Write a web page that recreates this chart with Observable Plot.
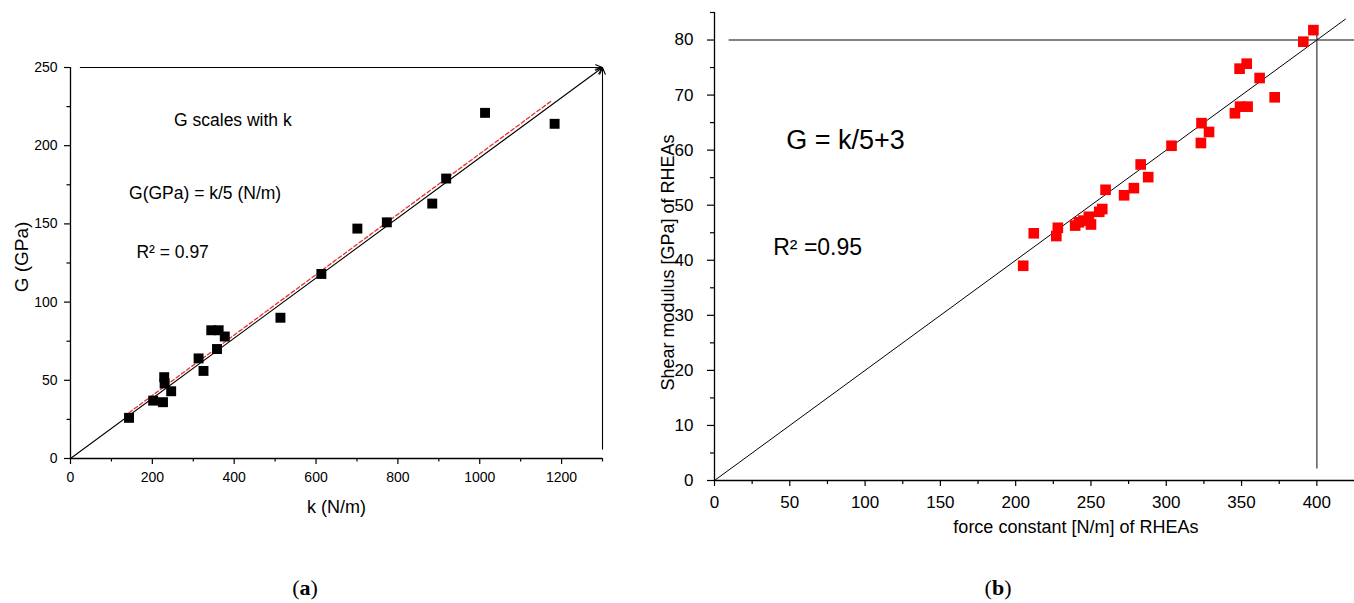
<!DOCTYPE html>
<html>
<head>
<meta charset="utf-8">
<script src="https://cdn.jsdelivr.net/npm/d3@7"></script>
<script src="https://cdn.jsdelivr.net/npm/@observablehq/plot@0.6"></script>
<style>
  html, body { margin: 0; padding: 0; background: #fff; }
  #wrap { position: relative; width: 1354px; height: 603px; overflow: hidden; background: #fff; }
  .panel { position: absolute; top: 0; }
  .cap { position: absolute; font-family: "Liberation Serif", "DejaVu Serif", serif; font-size: 22px; color: #000; transform: translateX(-50%); }
</style>
</head>
<body>
<div id="wrap">
  <div id="pa" class="panel" style="left:0px"></div>
  <div id="pb" class="panel" style="left:640px"></div>
  <div class="cap" style="left:305px; top:575px;">(<b>a</b>)</div>
  <div class="cap" style="left:998px; top:575px;">(<b>b</b>)</div>
</div>
<script>
// ---------- Panel (a) data ----------
const kA = [143, 202, 226, 229, 230, 246, 313, 325, 344, 362, 377, 358, 513, 613, 701, 773, 884, 918, 1013, 1183];
const gA = [26, 37, 36, 52, 48, 43, 64, 56, 82, 82, 78, 70, 90, 118, 147, 151, 163, 179, 221, 214];
const fitKA = [143, 1175];
const fitGA = [29.3, 228.6];
const arrowsA = [
  {x1: 0, y1: 0, x2: 1300, y2: 250},
  {x1: 24, y1: 250, x2: 1300, y2: 250},
  {x1: 1300, y1: 6, x2: 1300, y2: 250}
];
const notesA = [
  {k: 253, g: 216, t: "G scales with k"},
  {k: 143, g: 169.4, t: "G(GPa) = k/5 (N/m)"},
  {k: 161, g: 131.9, t: "R\u00b2 = 0.97"}
];
const xMajorA = [0, 200, 400, 600, 800, 1000, 1200];
const xMinorA = [100, 300, 500, 700, 900, 1100, 1300];
const yMajorA = [0, 50, 100, 150, 200, 250];
const yMinorA = [25, 75, 125, 175, 225];

// ---------- Panel (b) data ----------
const kB = [205, 212, 227, 228, 239.5, 242, 245, 248.6, 250, 255.5, 257.5, 259.7, 272, 278.5, 283, 288, 303.5, 323, 323.4, 328.4, 345.6, 349, 354, 348.7, 353.4, 362, 372, 391, 397.7];
const gB = [39.0, 44.9, 44.4, 45.9, 46.3, 46.9, 47.2, 47.9, 46.5, 48.8, 49.3, 52.8, 51.8, 53.1, 57.4, 55.1, 60.8, 61.3, 64.9, 63.3, 66.7, 67.9, 67.9, 74.8, 75.7, 73.1, 69.6, 79.7, 81.8];
const guideKB = [0, 419];
const guideGB = [0, 83.8];
const hLineB = {g: 80, k1: 9.7, k2: 425};
const vLineB = {k: 400, g1: 2.1, g2: 81.4};
const notesB = [
  {k: 47.6, g: 61.75, t: "G = k/5+3", size: 27},
  {k: 39, g: 42.3, t: "R\u00b2 =0.95", size: 23}
];
const xMajorB = [0, 50, 100, 150, 200, 250, 300, 350, 400];
const xMinorB = [25, 75, 125, 175, 225, 275, 325, 375];
const yMajorB = [0, 10, 20, 30, 40, 50, 60, 70, 80];
const yMinorB = [5, 15, 25, 35, 45, 55, 65, 75, 85];

const FONT = "'Liberation Sans', Arial, sans-serif";

// ---------- Panel (a) ----------
const ptsA = kA.map((k, i) => ({k, g: gA[i]}));
const fitA = fitKA.map((k, i) => ({k, g: fitGA[i]}));
const plotA = Plot.plot({
  width: 640, height: 603,
  marginLeft: 70, marginRight: 38, marginTop: 67, marginBottom: 145,
  style: {fontFamily: FONT, background: "transparent", overflow: "visible", color: "#000"},
  x: {domain: [0, 1300]},
  y: {domain: [0, 250]},
  marks: [
    Plot.ruleY([0], {stroke: "#000", strokeWidth: 1.3}),
    Plot.ruleX([0], {stroke: "#000", strokeWidth: 1.3}),
    Plot.axisX(xMajorA, {anchor: "bottom", tickSize: 6, tickPadding: 8, fontSize: 14, strokeWidth: 1.2, label: null, tickFormat: d => String(d)}),
    Plot.axisX(xMinorA, {anchor: "bottom", tickSize: 3.5, strokeWidth: 1.2, label: null, tickFormat: () => ""}),
    Plot.axisY(yMajorA, {anchor: "left", tickSize: 6, tickPadding: 7, fontSize: 14, strokeWidth: 1.2, label: null, tickFormat: d => String(d)}),
    Plot.axisY(yMinorA, {anchor: "left", tickSize: 3.5, strokeWidth: 1.2, label: null, tickFormat: () => ""}),
    Plot.text(["k (N/m)"], {frameAnchor: "bottom", textAnchor: "middle", lineAnchor: "middle", dy: 49, fontSize: 18, fill: "#000"}),
    Plot.text(["G (GPa)"], {frameAnchor: "left", textAnchor: "middle", lineAnchor: "middle", dx: -49, dy: -6, rotate: -90, fontSize: 19, fill: "#000"}),
    Plot.line(fitA, {x: "k", y: "g", stroke: "#e8302e", strokeWidth: 1.3, strokeDasharray: "4,2.5"}),
    Plot.arrow(arrowsA, {x1: "x1", y1: "y1", x2: "x2", y2: "y2", stroke: "#000", strokeWidth: 1.1, headLength: 10, headAngle: 45}),
    Plot.dot(ptsA, {x: "k", y: "g", symbol: "square", r: 5.6, fill: "#000", stroke: "none"}),
    Plot.text(notesA, {x: "k", y: "g", text: "t", textAnchor: "start", fontSize: 17.5, fill: "#000"})
  ]
});
document.getElementById("pa").appendChild(plotA);

// ---------- Panel (b) ----------
const ptsB = kB.map((k, i) => ({k, g: gB[i]}));
const guideB = guideKB.map((k, i) => ({k, g: guideGB[i]}));
const plotB = Plot.plot({
  width: 714, height: 603,
  marginLeft: 74, marginRight: 0, marginTop: 12, marginBottom: 123,
  style: {fontFamily: FONT, background: "transparent", overflow: "visible", color: "#000"},
  x: {domain: [0, 425]},
  y: {domain: [0, 85]},
  marks: [
    Plot.ruleY([hLineB], {y: "g", x1: "k1", x2: "k2", stroke: "#5a5a5a", strokeWidth: 1.5}),
    Plot.ruleX([vLineB], {x: "k", y1: "g1", y2: "g2", stroke: "#5a5a5a", strokeWidth: 1.5}),
    Plot.ruleY([0], {stroke: "#000", strokeWidth: 1.3}),
    Plot.ruleX([0], {stroke: "#000", strokeWidth: 1.3}),
    Plot.axisX(xMajorB, {anchor: "bottom", tickSize: 6, tickPadding: 9, fontSize: 17, strokeWidth: 1.2, label: null, tickFormat: d => String(d)}),
    Plot.axisX(xMinorB, {anchor: "bottom", tickSize: 4, strokeWidth: 1.2, label: null, tickFormat: () => ""}),
    Plot.axisY(yMajorB, {anchor: "left", tickSize: 7, tickPadding: 14, fontSize: 17, strokeWidth: 1.2, label: null, tickFormat: d => String(d)}),
    Plot.axisY(yMinorB, {anchor: "left", tickSize: 4, strokeWidth: 1.2, label: null, tickFormat: () => ""}),
    Plot.text(["force constant [N/m] of RHEAs"], {x: () => 240, frameAnchor: "bottom", textAnchor: "middle", lineAnchor: "middle", dy: 47, fontSize: 18, fill: "#000"}),
    Plot.text(["Shear modulus [GPa] of RHEAs"], {y: () => 39.6, frameAnchor: "left", textAnchor: "middle", lineAnchor: "middle", dx: -46, rotate: -90, fontSize: 18, fill: "#000"}),
    Plot.line(guideB, {x: "k", y: "g", stroke: "#000", strokeWidth: 1}),
    Plot.dot(ptsB, {x: "k", y: "g", symbol: "square", r: 6, fill: "#ff0000", stroke: "none"}),
    Plot.text(notesB, {x: "k", y: "g", text: "t", textAnchor: "start", fontSize: d => d.size, fill: "#000"})
  ]
});
document.getElementById("pb").appendChild(plotB);
</script>
</body>
</html>
